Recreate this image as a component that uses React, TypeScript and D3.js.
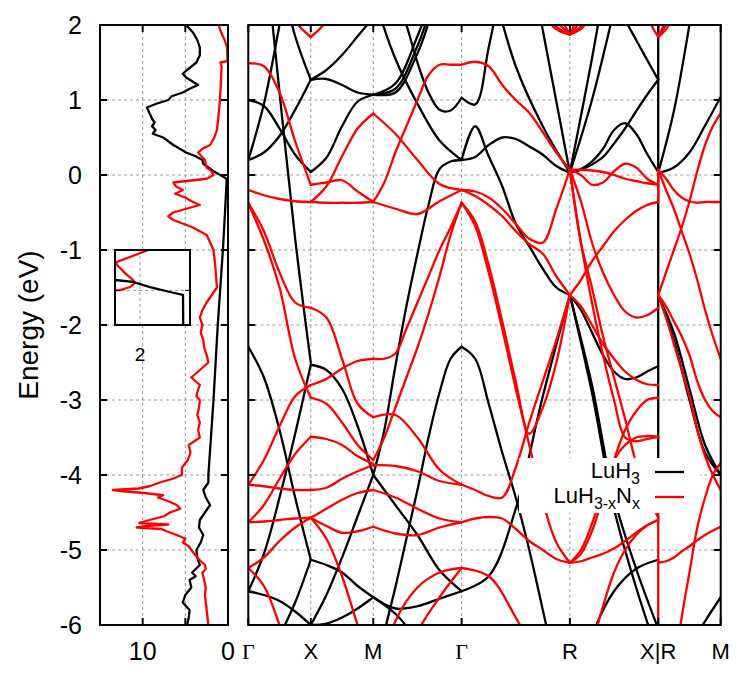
import React, { useEffect, useRef } from "react";
import * as d3 from "d3";

const W = 747;
const H = 679;

// k-path (distances in 2π/a), labels and energy ticks
const kPoints = [0, 0.5, 1.0, 1.7071, 2.5731, 3.2802, 3.7802];
const kLabels = ["Γ", "X", "M", "Γ", "R", "X|R", "M"];
const energyTicks = [2, 1, 0, -1, -2, -3, -4, -5, -6];
const dosGrid = [10, 5];
const dosLabels = [10, 0];

// bands: [segment, energies evenly spaced along segment, t0, t1]
const luH3Bands: any[] = [
  [0, [0.2, 0.95, 2.0, 3.1, 3.6]],
  [0, [0.2, 0.3, 0.52, 0.87, 1.27]],
  [0, [1.0, 0.92, 0.62, 0.27, 0.04]],
  [0, [4.8, 3.1, 1.1, -0.85, -2.5]],
  [0, [4.5, 3.6, 2.7, 1.85, 1.27]],
  [0, [-2.29, -2.7, -3.4, -4.3, -5.13]],
  [0, [-5.55, -5.05, -4.3, -3.45, -2.53]],
  [0, [-5.55, -5.6, -5.68, -5.82, -6.0]],
  [0, [-7.0, -6.6, -6.15, -5.7, -5.13]],
  [1, [1.27, 1.28, 1.2, 1.1, 1.07]],
  [1, [1.27, 1.4, 1.6, 1.85, 2.1]],
  [1, [0.04, 0.23, 0.65, 0.98, 1.07]],
  [1, [-2.53, -2.6, -2.85, -3.35, -4.0]],
  [1, [-6.0, -5.6, -5.1, -4.55, -4.0]],
  [1, [-5.13, -5.2, -5.3, -5.48, -5.63]],
  [1, [-6.0, -5.98, -5.9, -5.78, -5.63]],
  [2, [1.07, 1.22, 1.85, 2.6, 3.0]],
  [2, [1.07, 1.1, 1.62, 2.4, 2.8]],
  [2, [1.07, 1.15, 1.72, 2.5, 2.9]],
  [2, [2.4, 1.55, 0.95, 0.46, 0.2]],
  [2, [3.5, 2.9, 2.4, 2.0, 1.5, 1.1, 0.87, 0.86, 1.03]],
  [2, [-4.0, -3.4, -2.55, -1.75, -1.05, -0.4, 0.08, 0.18, 0.2]],
  [2, [-6.8, -6.1, -5.5, -4.85, -4.2, -3.5, -2.9, -2.45, -2.29]],
  [2, [-4.0, -4.4, -4.8, -5.27, -5.55]],
  [2, [-5.63, -5.78, -5.75, -5.65, -5.55]],
  [2, [-5.63, -5.85, -6.2, -6.6, -7.0]],
  [3, [1.03, 0.94, 1.7, 2.6, 3.5, 4.3, 5.0, 5.6, 6.1]],
  [3, [0.2, 0.24, 0.4, 0.5, 0.48, 0.38, 0.27, 0.12, 0.03]],
  [3, [0.2, 0.65, 0.25, -0.15, -0.65, -0.95, -1.25, -1.5, -1.6]],
  [3, [4.0, 2.7, 1.45, 0.65, 0.03]],
  [3, [7.0, 5.6, 3.8, 1.93, 0.03]],
  [3, [-2.29, -2.45, -3.05, -3.7, -4.3, -5.0, -5.8, -6.6, -7.4]],
  [3, [-5.55, -5.35, -4.45, -2.95, -1.6]],
  [4, [0.03, 0.07, 0.14, 0.24, 0.42, 0.62, 0.85, 1.07, 1.27]],
  [4, [0.03, 0.08, 0.18, 0.35, 0.6, 0.69, 0.55, 0.28, 0.04]],
  [4, [0.03, 1.55, 3.2, 4.8, 6.0]],
  [4, [0.03, 1.0, 2.2, 3.5, 4.8]],
  [4, [3.7, 3.0, 2.35, 1.8, 1.27]],
  [4, [-1.6, -1.8, -2.1, -2.4, -2.62, -2.72, -2.7, -2.62, -2.55]],
  [4, [-1.6, -2.8, -4.3, -5.25, -6.05]],
  [4, [-1.6, -2.9, -4.45, -5.5, -6.4]],
  [4, [-7.3, -6.15, -5.55, -5.25, -5.13]],
  [5, [0.03, 0.1, 0.3, 0.66, 1.04]],
  [5, [0.03, 0.85, 2.0, 3.2, 4.2]],
  [5, [-1.6, -2.1, -2.85, -3.6, -4.0]],
  [5, [-1.6, -2.2, -3.0, -3.7, -4.0]],
  [5, [-7.2, -6.8, -6.3, -5.95, -5.63]],
];

const luH3NBands: any[] = [
  [0, [1.49, 1.45, 1.1, 0.45, -0.13]],
  [0, [-0.2, -0.27, -0.32, -0.35, -0.36]],
  [0, [-0.37, -0.75, -1.3, -1.7, -1.77]],
  [0, [-0.38, -0.87, -1.5, -2.45, -2.97]],
  [0, [3.5, 3.0, 2.5, 2.05, 1.84]],
  [0, [-4.13, -3.8, -3.35, -2.95, -2.8]],
  [0, [-4.13, -4.15, -4.18, -4.2, -4.2]],
  [0, [-4.63, -4.4, -4.05, -3.72, -3.49]],
  [0, [-4.63, -4.62, -4.6, -4.58, -4.57]],
  [0, [-5.24, -5.1, -4.88, -4.7, -4.57]],
  [0, [-5.24, -5.48, -6.0, -6.6, -7.2]],
  [1, [-0.13, -0.1, -0.07, -0.22, -0.36]],
  [1, [-0.36, -0.37, -0.37, -0.37, -0.36]],
  [1, [-0.36, -0.15, 0.25, 0.62, 0.82]],
  [1, [1.84, 2.05, 2.5, 3.0, 3.5]],
  [1, [-1.77, -1.9, -2.45, -3.05, -3.23]],
  [1, [-2.97, -3.05, -3.3, -3.6, -3.8]],
  [1, [-2.8, -2.72, -2.58, -2.48, -2.45]],
  [1, [-4.2, -4.17, -4.05, -3.95, -3.87]],
  [1, [-3.49, -3.52, -3.6, -3.75, -3.85]],
  [1, [-4.57, -4.68, -4.77, -4.75, -4.69]],
  [1, [-4.57, -4.45, -4.33, -4.24, -4.2]],
  [1, [-4.57, -4.85, -5.35, -6.0, -6.6]],
  [2, [-0.36, -0.45, -0.52, -0.35, -0.2]],
  [2, [-0.36, -0.1, 0.3, 0.65, 1.0, 1.33, 1.47, 1.47, 1.47]],
  [2, [0.82, 0.55, 0.2, -0.12, -0.2]],
  [2, [-2.45, -2.45, -2.38, -2.05, -1.7, -1.35, -1.0, -0.7, -0.37]],
  [2, [-3.8, -3.5, -3.1, -2.7, -2.3, -1.85, -1.35, -0.8, -0.37]],
  [2, [-3.23, -3.2, -3.5, -3.93, -4.13]],
  [2, [-3.87, -3.88, -3.95, -4.08, -4.13]],
  [2, [-4.2, -4.3, -4.45, -4.58, -4.63]],
  [2, [-4.69, -4.78, -4.8, -4.7, -4.63]],
  [2, [-7.0, -5.95, -5.5, -5.3, -5.24]],
  [2, [-8.0, -7.0, -6.1, -5.63, -5.24]],
  [3, [1.47, 1.51, 1.45, 1.2, 1.0, 0.83, 0.57, 0.3, 0.07]],
  [3, [-0.2, -0.28, -0.4, -0.55, -0.75, -0.92, -1.05, -1.35, -1.6]],
  [3, [-0.2, -0.22, -0.3, -0.45, -0.65, -0.85, -0.9, -0.45, 0.07]],
  [3, [-0.37, -0.62, -1.2, -1.95, -2.75, -3.45, -3.1, -2.5, -1.6]],
  [3, [-0.37, -0.68, -1.3, -2.05, -2.85, -3.6, -4.35, -4.9, -5.17]],
  [3, [-4.13, -4.2, -4.28, -4.3, -3.9, -3.3, -2.75, -2.2, -1.6]],
  [3, [-4.63, -4.58, -4.56, -4.58, -4.72, -4.88, -5.0, -5.12, -5.17]],
  [3, [-5.24, -5.35, -5.9, -6.6, -7.3]],
  [3, [2.23, 1.96, 1.87], 0.72, 1],
  [3, [2.4, 2.0, 1.87], 0.72, 1],
  [3, [2.7, 2.1, 1.87], 0.72, 1],
  [3, [3.3, 2.3, 1.87], 0.72, 1],
  [4, [0.07, 0.07, 0.06, 0.04, 0.0, -0.05, -0.08, -0.11, -0.13]],
  [4, [0.07, 0.0, -0.13, -0.1, 0.05, 0.15, 0.1, -0.05, -0.13]],
  [4, [-1.6, -1.4, -1.15, -0.95, -0.75, -0.6, -0.48, -0.4, -0.36]],
  [4, [0.07, -0.35, -0.9, -1.3, -1.6, -1.82, -1.9, -1.87, -1.77]],
  [4, [-1.6, -1.75, -2.0, -2.25, -2.45, -2.62, -2.73, -2.79, -2.8]],
  [4, [0.07, -0.9, -1.7, -2.4, -3.0, -3.5, -3.55, -3.52, -3.49]],
  [4, [0.07, -0.9, -1.5, -2.15, -2.7, -3.25, -3.84, -4.25, -4.57]],
  [4, [-5.17, -5.05, -4.75, -4.3, -3.8, -3.4, -3.15, -3.0, -2.97]],
  [4, [-5.17, -5.0, -4.65, -4.2, -3.8, -3.6, -3.5, -3.48, -3.49]],
  [4, [-5.17, -5.15, -5.1, -5.05, -4.98, -4.88, -4.77, -4.67, -4.6]],
  [4, [-8.0, -7.0, -6.3, -5.75, -5.3, -5.0, -4.8, -4.67, -4.6]],
  [4, [1.87, 1.96, 2.23], 0, 0.28],
  [4, [1.87, 2.0, 2.4], 0, 0.28],
  [4, [1.87, 2.1, 2.7], 0, 0.28],
  [4, [1.87, 2.3, 3.3], 0, 0.28],
  [4, [2.4, 2.05, 1.84], 0.8, 1],
  [5, [0.07, -0.05, -0.2, -0.3, -0.35, -0.37, -0.36, -0.36, -0.36]],
  [5, [0.07, -0.2, -0.45, -0.75, -1.05, -1.4, -1.8, -2.15, -2.45]],
  [5, [-1.6, -1.3, -1.0, -0.7, -0.35, 0.05, 0.4, 0.65, 0.82]],
  [5, [-1.6, -1.75, -1.95, -2.15, -2.4, -2.75, -3.0, -3.15, -3.23]],
  [5, [-1.6, -1.9, -2.25, -2.6, -2.95, -3.4, -3.75, -4.0, -4.2]],
  [5, [-8.0, -7.3, -6.6, -5.9, -5.3, -4.7, -4.3, -4.0, -3.84]],
  [5, [-5.17, -5.15, -5.1, -5.02, -4.95, -4.87, -4.8, -4.74, -4.69]],
  [5, [1.84, 1.97, 2.3], 0, 0.3],
  [5, [1.84, 2.05, 2.6], 0, 0.3],
  [5, [1.84, 2.15, 3.0], 0, 0.3],
];

// vertical jumps drawn at the X|R break
const luH3Jumps = [[2.0, -3.8]];
const luH3NJumps = [[0.07, -0.36], [-4.45, -6.0]];

// density of states: [energy, states/eV]
const dosLuH3 = [
  [-6.0, 4.8], [-5.9, 4.6], [-5.8, 4.5], [-5.7, 5.3], [-5.6, 5.0], [-5.5, 4.3], [-5.4, 4.5],
  [-5.35, 3.8], [-5.3, 4.2], [-5.2, 3.3], [-5.1, 3.6], [-5.0, 3.7], [-4.9, 3.2], [-4.8, 2.9],
  [-4.7, 3.4], [-4.6, 3.3], [-4.5, 2.7], [-4.4, 2.1], [-4.3, 2.6], [-4.2, 2.9], [-4.1, 2.3],
  [-4.0, 2.3], [-3.5, 2.0], [-3.0, 1.7], [-2.5, 1.45], [-2.0, 1.2], [-1.5, 0.9], [-1.0, 0.6],
  [-0.5, 0.35], [-0.05, 0.15], [0.0, 0.9], [0.05, 1.7], [0.1, 2.3], [0.15, 2.9], [0.2, 3.0],
  [0.25, 3.8], [0.3, 4.9], [0.4, 6.4], [0.5, 7.6], [0.55, 8.8], [0.6, 8.5], [0.65, 8.9],
  [0.7, 8.6], [0.75, 8.9], [0.8, 9.1], [0.85, 9.3], [0.9, 9.5], [0.95, 8.4], [1.0, 7.0],
  [1.05, 6.6], [1.1, 5.3], [1.15, 4.5], [1.2, 3.5], [1.25, 4.2], [1.3, 4.9], [1.35, 5.3],
  [1.4, 4.8], [1.5, 3.7], [1.6, 3.3], [1.7, 3.3], [1.8, 3.6], [1.9, 4.1], [2.0, 4.9],
];

const dosLuH3N = [
  [-6.0, 2.3], [-5.8, 2.5], [-5.6, 2.7], [-5.5, 2.6], [-5.4, 2.8], [-5.3, 3.0], [-5.25, 2.6],
  [-5.2, 2.7], [-5.15, 3.2], [-5.1, 3.6], [-5.0, 4.3], [-4.95, 4.6], [-4.9, 5.3], [-4.85, 5.0],
  [-4.8, 6.0], [-4.75, 7.2], [-4.72, 7.8], [-4.7, 10.7], [-4.68, 9.5], [-4.66, 7.0], [-4.64, 10.4],
  [-4.6, 9.2], [-4.55, 7.5], [-4.5, 6.8], [-4.45, 5.6], [-4.4, 6.0], [-4.35, 7.0], [-4.3, 8.2],
  [-4.27, 7.6], [-4.24, 9.8], [-4.22, 12.0], [-4.2, 13.5], [-4.18, 10.5], [-4.15, 9.2], [-4.1, 8.0],
  [-4.05, 6.5], [-4.0, 5.4], [-3.9, 5.4], [-3.8, 4.7], [-3.7, 4.4], [-3.6, 4.6], [-3.5, 3.3],
  [-3.4, 3.5], [-3.3, 3.3], [-3.2, 3.6], [-3.1, 3.4], [-3.0, 3.3], [-2.95, 3.7], [-2.9, 3.6],
  [-2.8, 3.3], [-2.7, 4.3], [-2.6, 3.3], [-2.5, 2.3], [-2.4, 2.5], [-2.3, 2.8], [-2.2, 2.9],
  [-2.1, 3.2], [-2.0, 3.0], [-1.9, 3.3], [-1.8, 3.0], [-1.7, 2.5], [-1.5, 1.3], [-1.2, 1.5],
  [-1.0, 1.7], [-0.9, 2.1], [-0.8, 2.5], [-0.7, 4.1], [-0.6, 6.4], [-0.55, 7.0], [-0.5, 6.4],
  [-0.45, 4.9], [-0.4, 3.3], [-0.35, 4.3], [-0.3, 5.0], [-0.25, 6.2], [-0.2, 5.3], [-0.15, 6.1],
  [-0.1, 6.4], [-0.05, 2.5], [0.0, 1.7], [0.05, 1.9], [0.1, 2.5], [0.2, 2.7], [0.3, 3.5],
  [0.35, 3.0], [0.4, 2.1], [0.5, 1.6], [0.6, 1.3], [0.8, 1.1], [1.0, 0.95], [1.2, 0.85],
  [1.45, 0.75], [1.5, 0.9], [1.52, 0.05], [1.7, 0.1], [1.8, 0.4], [1.9, 0.8], [2.0, 1.1],
];

// inset: DOS close to the Fermi level
const insetLuH3 = [
  [-0.35, 0.27], [-0.04, 0.28], [-0.014, 0.8], [0.029, 1.6], [0.073, 2.28], [0.09, 3.0], [0.11, 3.5],
];
const insetLuH3N = [
  [0.37, 1.4], [0.333, 1.88], [0.289, 2.4], [0.246, 2.92], [0.23, 2.96], [0.194, 2.8], [0.15, 2.6],
  [0.09, 2.28], [0.064, 2.2], [0.029, 2.4], [0.003, 2.8], [0.0, 2.96], [-0.01, 3.3],
];

const FONT = "'Liberation Sans', Arial, Helvetica, sans-serif";
const LW = 2.3;

export default function App() {
  const ref = useRef<SVGSVGElement>(null);

  useEffect(() => {
    const svg = d3.select(ref.current);
    svg.selectAll("*").remove();

    const top = 25, bottom = 625;
    const dosL = 100, dosR = 228;
    const bandL = 248.3, bandR = 720.7;

    const y = d3.scaleLinear().domain([-6, 2]).range([bottom, top]);
    const kx = d3.scaleLinear().domain([0, kPoints[kPoints.length - 1]]).range([bandL, bandR]);
    const dx = d3.scaleLinear().domain([15, 0]).range([dosL, dosR]);

    svg.append("rect").attr("width", W).attr("height", H).attr("fill", "#fff");

    const defs = svg.append("defs");
    defs.append("clipPath").attr("id", "clip-band")
      .append("rect").attr("x", bandL).attr("y", top).attr("width", bandR - bandL).attr("height", bottom - top);
    defs.append("clipPath").attr("id", "clip-dos")
      .append("rect").attr("x", dosL).attr("y", top).attr("width", dosR - dosL).attr("height", bottom - top);

    const grid = svg.append("g")
      .attr("stroke", "#9a9a9a").attr("stroke-width", 1).attr("stroke-dasharray", "3,3");
    energyTicks.filter(e => e > -6 && e < 2).forEach(e => {
      grid.append("line").attr("x1", dosL).attr("x2", dosR).attr("y1", y(e)).attr("y2", y(e));
      grid.append("line").attr("x1", bandL).attr("x2", bandR).attr("y1", y(e)).attr("y2", y(e));
    });
    kPoints.slice(1, -1).forEach(k => {
      grid.append("line").attr("x1", kx(k)).attr("x2", kx(k)).attr("y1", top).attr("y2", bottom);
    });
    dosGrid.forEach(v => {
      grid.append("line").attr("x1", dx(v)).attr("x2", dx(v)).attr("y1", top).attr("y2", bottom);
    });

    // ---- DOS panel
    const dosLine = d3.line<number[]>().x(d => dx(d[1])).y(d => y(d[0]));
    const gd = svg.append("g").attr("clip-path", "url(#clip-dos)").attr("fill", "none")
      .attr("stroke-width", LW).attr("stroke-linejoin", "round");
    gd.append("path").attr("d", dosLine(dosLuH3)).attr("stroke", "#000");
    gd.append("path").attr("d", dosLine(dosLuH3N)).attr("stroke", "#ff0000");

    // ---- band panel
    const bandLine = d3.line<number[]>().x(d => kx(d[0])).y(d => y(d[1]))
      .curve(d3.curveCatmullRom.alpha(0.5));
    const toPoints = (b: any[]) => {
      const [s, e, t0 = 0, t1 = 1] = b;
      const k0 = kPoints[s], k1 = kPoints[s + 1];
      return e.map((v: number, i: number) => {
        const t = t0 + (t1 - t0) * (i / (e.length - 1));
        return [k0 + t * (k1 - k0), v];
      });
    };
    const gb = svg.append("g").attr("clip-path", "url(#clip-band)").attr("fill", "none")
      .attr("stroke-width", LW).attr("stroke-linecap", "round").attr("stroke-linejoin", "round");
    const kBreak = kx(kPoints[5]);
    luH3Bands.forEach(b => gb.append("path").attr("d", bandLine(toPoints(b))).attr("stroke", "#000"));
    luH3Jumps.forEach(j => gb.append("line").attr("x1", kBreak).attr("x2", kBreak)
      .attr("y1", y(j[0])).attr("y2", y(j[1])).attr("stroke", "#000"));
    luH3NBands.forEach(b => gb.append("path").attr("d", bandLine(toPoints(b))).attr("stroke", "#ff0000"));
    luH3NJumps.forEach(j => gb.append("line").attr("x1", kBreak).attr("x2", kBreak)
      .attr("y1", y(j[0])).attr("y2", y(j[1])).attr("stroke", "#ff0000"));

    // legend (opaque key)
    const lg = svg.append("g").attr("font-family", FONT).attr("font-size", 22);
    lg.append("rect").attr("x", 519).attr("y", 458).attr("width", 181).attr("height", 55).attr("fill", "#fff");
    const t1 = lg.append("text").attr("x", 640).attr("y", 478).attr("text-anchor", "end");
    t1.append("tspan").text("LuH");
    t1.append("tspan").attr("font-size", 16).attr("dy", 6).text("3");
    const t2 = lg.append("text").attr("x", 640).attr("y", 503).attr("text-anchor", "end");
    t2.append("tspan").text("LuH");
    t2.append("tspan").attr("font-size", 16).attr("dy", 6).text("3-x");
    t2.append("tspan").attr("dy", -6).text("N");
    t2.append("tspan").attr("font-size", 16).attr("dy", 6).text("x");
    lg.append("line").attr("x1", 655).attr("x2", 684).attr("y1", 472).attr("y2", 472)
      .attr("stroke", "#000").attr("stroke-width", LW);
    lg.append("line").attr("x1", 655).attr("x2", 684).attr("y1", 497).attr("y2", 497)
      .attr("stroke", "#ff0000").attr("stroke-width", LW);

    // ---- inset
    const ix = d3.scaleLinear().domain([3, 0]).range([115, 190]);
    const iy = d3.scaleLinear().domain([-0.3, 0.35]).range([325, 250]);
    defs.append("clipPath").attr("id", "clip-inset")
      .append("rect").attr("x", 115).attr("y", 250).attr("width", 75).attr("height", 75);
    const gi = svg.append("g");
    gi.append("rect").attr("x", 115).attr("y", 250).attr("width", 75).attr("height", 75).attr("fill", "#fff");
    gi.append("line").attr("x1", ix(2)).attr("x2", ix(2)).attr("y1", 250).attr("y2", 325)
      .attr("stroke", "#9a9a9a").attr("stroke-dasharray", "3,3");
    gi.append("line").attr("x1", 115).attr("x2", 190).attr("y1", iy(0)).attr("y2", iy(0))
      .attr("stroke", "#9a9a9a").attr("stroke-dasharray", "3,3");
    const insetLine = d3.line<number[]>().x(d => ix(d[1])).y(d => iy(d[0]));
    const gic = gi.append("g").attr("clip-path", "url(#clip-inset)").attr("fill", "none").attr("stroke-width", LW);
    gic.append("path").attr("d", insetLine(insetLuH3N)).attr("stroke", "#ff0000");
    gic.append("path").attr("d", insetLine(insetLuH3)).attr("stroke", "#000");
    gi.append("line").attr("x1", 185).attr("x2", 190).attr("y1", iy(0)).attr("y2", iy(0)).attr("stroke", "#000");
    gi.append("line").attr("x1", 115).attr("x2", 120).attr("y1", iy(0)).attr("y2", iy(0)).attr("stroke", "#000");
    gi.append("rect").attr("x", 115).attr("y", 250).attr("width", 75).attr("height", 75)
      .attr("fill", "none").attr("stroke", "#000").attr("stroke-width", 2);
    gi.append("text").attr("x", ix(2)).attr("y", 361).attr("text-anchor", "middle")
      .attr("font-family", FONT).attr("font-size", 19).text("2");

    // ---- frames and ticks
    const axes = svg.append("g").attr("stroke", "#000").attr("stroke-width", 2).attr("fill", "none");
    axes.append("rect").attr("x", dosL).attr("y", top).attr("width", dosR - dosL).attr("height", bottom - top);
    axes.append("rect").attr("x", bandL).attr("y", top).attr("width", bandR - bandL).attr("height", bottom - top);
    const tl = 7;
    energyTicks.forEach(e => {
      [[dosL, tl], [dosR, -tl], [bandL, tl], [bandR, -tl]].forEach(([x0, d]) => {
        axes.append("line").attr("x1", x0).attr("x2", x0 + d).attr("y1", y(e)).attr("y2", y(e));
      });
    });
    kPoints.forEach(k => {
      axes.append("line").attr("x1", kx(k)).attr("x2", kx(k)).attr("y1", bottom).attr("y2", bottom - tl);
      axes.append("line").attr("x1", kx(k)).attr("x2", kx(k)).attr("y1", top).attr("y2", top + tl);
    });
    dosGrid.forEach(v => {
      axes.append("line").attr("x1", dx(v)).attr("x2", dx(v)).attr("y1", bottom).attr("y2", bottom - tl);
      axes.append("line").attr("x1", dx(v)).attr("x2", dx(v)).attr("y1", top).attr("y2", top + tl);
    });

    const labels = svg.append("g").attr("font-family", FONT).attr("fill", "#000");
    energyTicks.forEach(e => {
      labels.append("text").attr("x", 82).attr("y", y(e)).attr("dy", "0.36em")
        .attr("text-anchor", "end").attr("font-size", 25).text(String(e));
    });
    dosLabels.forEach(v => {
      labels.append("text").attr("x", dx(v)).attr("y", 660).attr("text-anchor", "middle")
        .attr("font-size", 25).text(String(v));
    });
    kLabels.forEach((lab, i) => {
      labels.append("text").attr("x", kx(kPoints[i])).attr("y", 659).attr("text-anchor", "middle")
        .attr("font-size", 22)
        .attr("font-family", lab === "Γ" ? "'Liberation Serif', 'Times New Roman', serif" : FONT)
        .text(lab);
    });
    labels.append("text").attr("transform", `translate(38, ${(top + bottom) / 2}) rotate(-90)`)
      .attr("text-anchor", "middle").attr("font-size", 28).text("Energy (eV)");
  }, []);

  return (
    <svg ref={ref} width={W} height={H}
      style={{ position: "absolute", left: 0, top: 0, display: "block" }} />
  );
}
